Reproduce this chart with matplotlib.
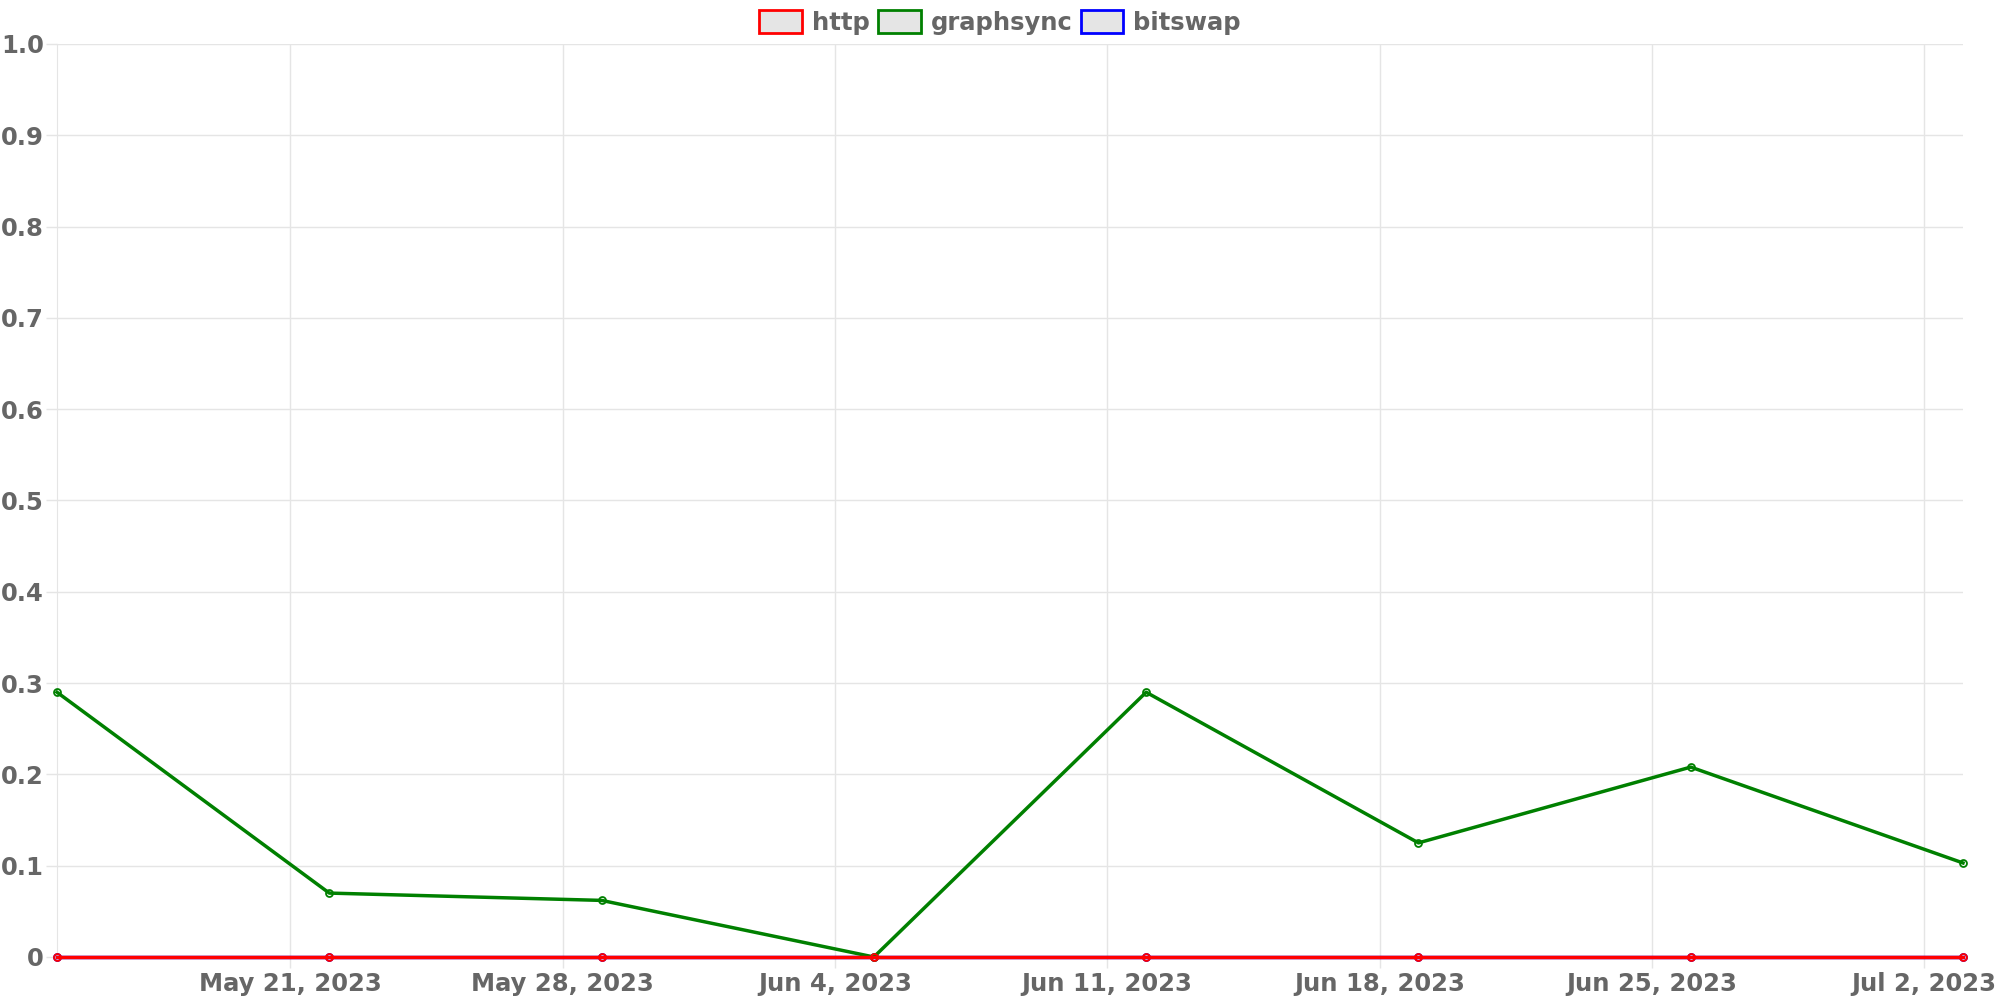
import datetime as dt
import matplotlib
matplotlib.use("Agg")
import matplotlib.pyplot as plt
import matplotlib.dates as mdates
from matplotlib.patches import Patch

# --------------------------
# Data (weekly points)
# --------------------------
dates = [dt.date(2023, 5, 15), dt.date(2023, 5, 22), dt.date(2023, 5, 29),
         dt.date(2023, 6, 5), dt.date(2023, 6, 12), dt.date(2023, 6, 19),
         dt.date(2023, 6, 26), dt.date(2023, 7, 3)]
http = [0, 0, 0, 0, 0, 0, 0, 0]
graphsync = [0.29, 0.07, 0.062, 0.0, 0.29, 0.125, 0.208, 0.103]
bitswap = [0, 0, 0, 0, 0, 0, 0, 0]

series = [("http", http, "red"), ("graphsync", graphsync, "green"), ("bitswap", bitswap, "blue")]

TEXT = "#666666"
GRID = "#e5e5e5"
FS = 17.5

fig = plt.figure(figsize=(20, 10), dpi=100)
ax = fig.add_axes([0.0285, 0.043, 0.953, 0.913])

# first dataset drawn on top (chart.js order)
for i, (name, vals, col) in reversed(list(enumerate(series))):
    ax.plot(dates, vals, color=col, lw=2.5, marker="o", ms=5,
            mfc="none", mec=col, mew=1.3, zorder=3 + (3 - i), clip_on=False)

ax.set_xlim(dt.date(2023, 5, 15), dt.date(2023, 7, 3))
ax.set_ylim(0, 1.0)
ax.set_yticks([i / 10 for i in range(11)])
ax.set_yticklabels(["0"] + [f"{i / 10:.1f}" for i in range(1, 11)])

ax.xaxis.set_major_locator(mdates.WeekdayLocator(byweekday=mdates.SU))
ax.xaxis.set_major_formatter(mdates.DateFormatter("%b %-d, %Y"))

ax.grid(True, color=GRID, lw=1)
ax.set_axisbelow(True)
for s in ["top", "right", "bottom"]:
    ax.spines[s].set_visible(False)
ax.spines["left"].set_color(GRID)
ax.tick_params(axis="both", colors=GRID, length=8, width=1,
               labelcolor=TEXT, labelsize=FS)
ax.tick_params(axis="x", pad=3)
ax.tick_params(axis="y", pad=1.5)
for lab in ax.get_xticklabels() + ax.get_yticklabels():
    lab.set_fontweight("bold")

handles = [Patch(facecolor="#e5e5e5", edgecolor=c, lw=2, label=n) for n, _, c in series]
leg = fig.legend(handles=handles, loc="upper center", bbox_to_anchor=(0.5, 1.012), ncol=3,
                 frameon=False, handlelength=1.75, handleheight=1.1,
                 handletextpad=0.4, columnspacing=0.35,
                 prop={"size": FS, "weight": "bold"})
for t in leg.get_texts():
    t.set_color(TEXT)

fig.savefig("out.png", dpi=100)
